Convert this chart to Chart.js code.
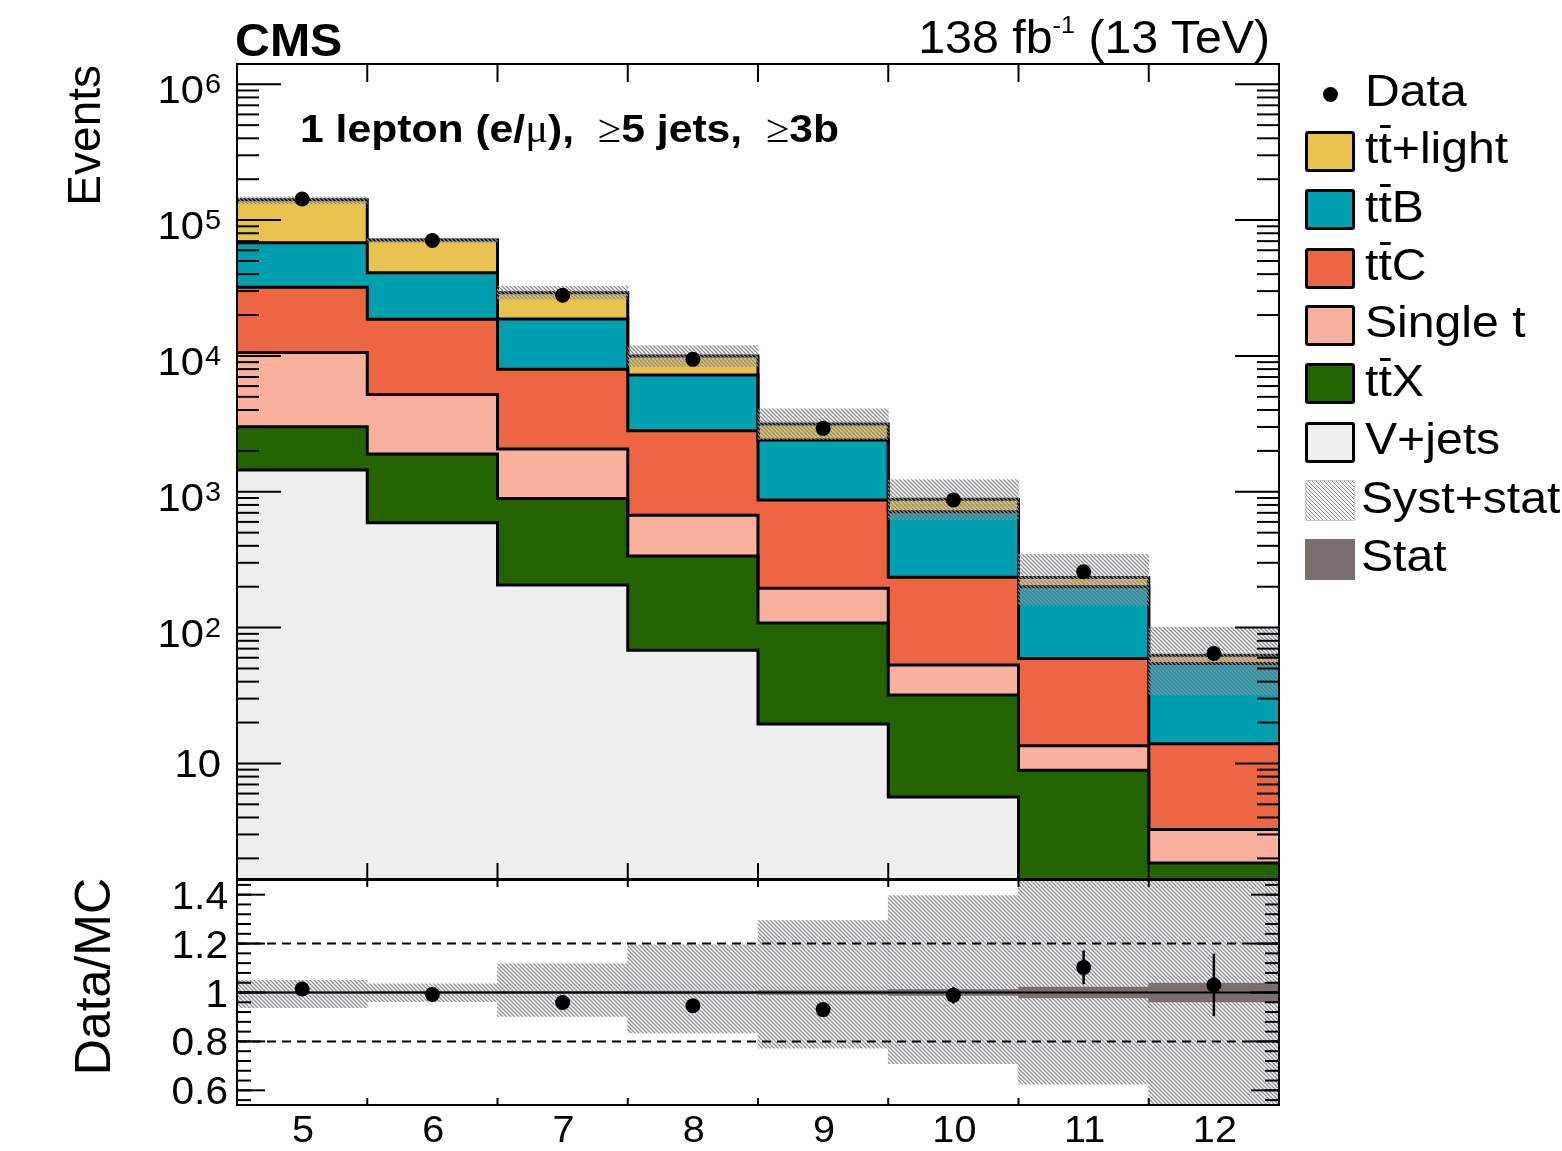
<!DOCTYPE html>
<html>
<head>
<meta charset="utf-8">
<title>Jet multiplicity, 1 lepton, ≥5 jets, ≥3b</title>
<script src="https://cdn.jsdelivr.net/npm/chart.js@4.4.1/dist/chart.umd.min.js"></script>
<style>
  html, body { margin: 0; padding: 0; background: #fff; }
  #page { position: relative; width: 1562px; height: 1151px; overflow: hidden;
          font-family: "Liberation Sans", Arial, Helvetica, sans-serif; color: #000; }
  .panel { position: absolute; left: 0; width: 1562px; }
  #mainBox  { top: 0;     height: 900px; }
  #ratioBox { top: 870px; height: 281px; }
  .t { position: absolute; white-space: nowrap; line-height: 1; transform-origin: 0 0; transform: scaleX(1.08); }
  .sym { font-family: "Liberation Serif", "DejaVu Serif", serif; font-weight: normal; }
  #cms  { left: 235px; top: 17px; font-size: 46px; font-weight: bold; transform: scaleX(1.05); }
  #lumi { right: 292px; top: 14px; font-size: 46px; transform-origin: 100% 0; transform: scaleX(1.05); }
  #lumi sup { font-size: 24px; vertical-align: 20px; line-height: 0; }
  #region { left: 300px; top: 109px; font-size: 39.5px; font-weight: bold; }
  .box { position: absolute; left: 1305px; width: 50px; height: 41px; box-sizing: border-box;
         border: 3px solid #000; border-radius: 3px; }
  .lab { position: absolute; left: 1365px; font-size: 45px; line-height: 1; white-space: nowrap;
         transform-origin: 0 0; transform: scaleX(1.07); }
  .tb { position: relative; }
  .tb::after { content: ""; position: absolute; left: 0.03em; right: 0.02em; top: 0.07em;
               height: 0.06em; background: #000; }
  #dot { position: absolute; left: 1323px; top: 87px; width: 15px; height: 15px; border-radius: 50%; background: #000; }
</style>
</head>
<body>
<div id="page">
  <div class="panel" id="mainBox"><canvas id="mainChart"></canvas></div>
  <div class="panel" id="ratioBox"><canvas id="ratioChart"></canvas></div>

  <div class="t" id="cms">CMS</div>
  <div class="t" id="lumi">138 fb<sup>-1</sup> (13 TeV)</div>
  <div class="t" id="region">1 lepton (e/<span class="sym">μ</span>),&nbsp; <span class="sym">≥</span>5 jets,&nbsp; <span class="sym">≥</span>3b</div>

  <!-- legend -->
  <div id="dot"></div>
  <div class="lab" style="top:68px">Data</div>
  <div class="box" style="top:131px; background:#e8c44f"></div>
  <div class="lab" style="top:125px">t<span class="tb">t</span>+light</div>
  <div class="box" style="top:189px; background:#009fb0"></div>
  <div class="lab" style="top:184px">t<span class="tb">t</span>B</div>
  <div class="box" style="top:248px; background:#ec6642"></div>
  <div class="lab" style="top:242px">t<span class="tb">t</span>C</div>
  <div class="box" style="top:305px; background:#f9b09c"></div>
  <div class="lab" style="top:299px">Single t</div>
  <div class="box" style="top:363px; background:#246400"></div>
  <div class="lab" style="top:358px">t<span class="tb">t</span>X</div>
  <div class="box" style="top:422px; background:#efefef"></div>
  <div class="lab" style="top:416px">V+jets</div>
  <div class="box" style="top:480px; border:1.5px solid #c4c4c8; border-radius:1px;
       background:repeating-linear-gradient(45deg, #8c8c96 0 1.2px, #fff 1.2px 2.83px)"></div>
  <div class="lab" style="top:475px; left:1361px">Syst+stat</div>
  <div class="box" style="top:539px; border:none; border-radius:1px; background:#7b6e6e"></div>
  <div class="lab" style="top:533px; left:1361px">Stat</div>
</div>

<script>
// ---------- bins ----------
const nJets     = [5, 6, 7, 8, 9, 10, 11, 12];
const binLabels = ['5', '6', '7', '8', '9', '10', '11', '12'];

// ---------- expected yields per process (events per bin) ----------
const vJets   = [1445, 591, 206, 68, 19.5, 5.65, 0, 0];
const ttX     = [1565, 1305, 688, 269, 88.5, 26.3, 8.9, 1.85];
const singleT = [7590, 3314, 1168, 336, 87, 21.1, 4.6, 1.42];
const ttC     = [21400, 13390, 5908, 2140, 674, 182, 45.8, 10.7];
const ttB     = [36200, 22400, 10730, 4417, 1536, 477, 140.7, 40.5];
const ttLight = [72800, 30300, 10500, 2750, 745, 167, 34, 8.2];

// ---------- observed events ----------
const dataCounts = [143000, 70700, 28000, 9440, 2930, 869, 258, 64.6];
const dataErrors = [380, 266, 167, 97, 54, 29.5, 16.1, 8.0];

// ---------- uncertainty of the total prediction (relative to it) ----------
const systStatUp   = [1.049, 1.035, 1.117, 1.195, 1.294, 1.396, 1.48, 1.60];
const systStatDown = [0.938, 0.963, 0.902, 0.835, 0.773, 0.709, 0.625, 0.51];
const statOnly     = [0.002, 0.003, 0.004, 0.006, 0.008, 0.012, 0.022, 0.038];

// ---------- axis ticks ----------
const eventsMajorTicks = [10, 1e2, 1e3, 1e4, 1e5, 1e6];
const eventsTickExps   = ['', '2', '3', '4', '5', '6'];
const ratioMajorTicks  = [0.6, 0.8, 1.0, 1.2, 1.4];
const ratioTickLabels  = ['0.6', '0.8', '1', '1.2', '1.4'];
const ratioRefLines    = [0.8, 1.2];

// ---------- styling ----------
const COLORS = {
  vJets: '#efefef', ttX: '#246400', singleT: '#f9b09c', ttC: '#ec6642',
  ttB: '#009fb0', ttLight: '#e8c44f', stat: '#7b6e6e', hatch: '#8c8c96'
};
const FONT = '"Liberation Sans", Arial, Helvetica, sans-serif';
const TEXT_SX = 1.07;
const FLOOR = 1e-2;          // below the lowest axis value, keeps the log scale happy

// stack order, bottom to top
const layers = [
  { name: 'V+jets',   values: vJets,   color: COLORS.vJets },
  { name: 'ttX',      values: ttX,     color: COLORS.ttX },
  { name: 'Single t', values: singleT, color: COLORS.singleT },
  { name: 'ttC',      values: ttC,     color: COLORS.ttC },
  { name: 'ttB',      values: ttB,     color: COLORS.ttB },
  { name: 'tt+light', values: ttLight, color: COLORS.ttLight }
];

// cumulative edges of the stack
const cumulative = [];
layers.forEach((l, k) => {
  cumulative.push(l.values.map((v, i) => (k ? cumulative[k - 1][i] : 0) + v));
});
const totalMC = cumulative[cumulative.length - 1];
const binEdges = nJets.map(n => n - 0.5).concat([nJets[nJets.length - 1] + 0.5]);
const xMin = binEdges[0], xMax = binEdges[binEdges.length - 1];
const innerEdges = binEdges.slice(1, -1);

function stepPoints(vals) {
  return binEdges.map((x, i) => ({ x, y: Math.max(vals[Math.min(i, vals.length - 1)], FLOOR) }));
}

// diagonal hatch used for the syst+stat band
function makeHatch() {
  const c = document.createElement('canvas');
  c.width = 4; c.height = 4;
  const g = c.getContext('2d');
  g.strokeStyle = COLORS.hatch;
  g.lineWidth = 1.25;
  g.beginPath();
  g.moveTo(-1, -1); g.lineTo(5, 5);
  g.moveTo(-1, 3);  g.lineTo(1, 5);
  g.moveTo(3, -1);  g.lineTo(5, 1);
  g.stroke();
  return g.createPattern(c, 'repeat');
}
const hatch = makeHatch();

// text helper: slightly widened glyphs
function wideText(ctx, text, x, y, align) {
  const w = ctx.measureText(text).width * TEXT_SX;
  const x0 = align === 'right' ? x - w : align === 'center' ? x - w / 2 : x;
  ctx.save();
  ctx.translate(x0, y);
  ctx.scale(TEXT_SX, 1);
  ctx.textAlign = 'left';
  ctx.fillText(text, 0, 0);
  ctx.restore();
  return w;
}

// frame with inward ticks on all four sides
const rootFrame = {
  id: 'rootFrame',
  afterDatasetsDraw(chart, args, o) {
    const { ctx, chartArea: a } = chart;
    const xs = chart.scales.x, ys = chart.scales.y;
    ctx.save();
    ctx.strokeStyle = '#000';
    ctx.lineWidth = 2;
    const seg = (x1, y1, x2, y2) => { ctx.beginPath(); ctx.moveTo(x1, y1); ctx.lineTo(x2, y2); ctx.stroke(); };
    o.yMajor.forEach(v => {
      const p = ys.getPixelForValue(v);
      seg(a.left, p, a.left + o.yMajorLen, p);
      seg(a.right, p, a.right - o.yMajorLen, p);
    });
    o.yMinor.forEach(v => {
      const p = ys.getPixelForValue(v);
      if (p < a.top || p > a.bottom) return;
      seg(a.left, p, a.left + o.yMinorLen, p);
      seg(a.right, p, a.right - o.yMinorLen, p);
    });
    o.xTicks.forEach(v => {
      const p = xs.getPixelForValue(v);
      seg(p, a.top, p, a.top + o.xTopLen);
      seg(p, a.bottom, p, a.bottom - o.xBottomLen);
    });
    ctx.strokeRect(a.left, a.top, a.right - a.left, a.bottom - a.top);
    ctx.restore();
  }
};

// minor ticks
const eventsMinorTicks = [];
for (let d = 1; d <= 1e5; d *= 10) for (let m = 2; m <= 9; m++) eventsMinorTicks.push(m * d);
const ratioMinorTicks = [];
for (let k = 14; k <= 36; k++) ratioMinorTicks.push(k * 0.04);

const commonOpts = {
  responsive: true, maintainAspectRatio: false, animation: false, events: [],
  devicePixelRatio: 1
};
const barBase = { type: 'bar', barPercentage: 1, categoryPercentage: 1, grouped: false,
                  borderWidth: 0, clip: 0, inflateAmount: 0.4 };
const fixTicks = scale => { scale.ticks = nJets.map(v => ({ value: v })); };
const xScale = { type: 'linear', min: xMin, max: xMax, offset: false, display: false,
                 afterBuildTicks: fixTicks };

// ================= upper panel =================
const mainDatasets = [];
layers.forEach((l, k) => {
  mainDatasets.push(Object.assign({}, barBase, {
    label: l.name, order: 10,
    backgroundColor: l.color,
    data: nJets.map((x, i) => ({ x, y: [Math.max(k ? cumulative[k - 1][i] : 0, FLOOR),
                                        Math.max(cumulative[k][i], FLOOR)] }))
  }));
});
layers.forEach((l, k) => {
  mainDatasets.push({
    type: 'line', label: l.name + ' outline', order: 5, stepped: 'before',
    data: stepPoints(cumulative[k]), borderColor: '#000', borderWidth: 3,
    pointRadius: 0, fill: false, clip: 0, borderJoinStyle: 'miter'
  });
});
mainDatasets.push(Object.assign({}, barBase, {
  label: 'Syst+stat', order: 2, backgroundColor: hatch,
  data: nJets.map((x, i) => ({ x, y: [totalMC[i] * systStatDown[i], totalMC[i] * systStatUp[i]] }))
}));
mainDatasets.push({
  type: 'scatter', label: 'Data', order: 0,
  data: nJets.map((x, i) => ({ x, y: dataCounts[i] })),
  pointRadius: 7.5, pointBackgroundColor: '#000', pointBorderWidth: 0
});

new Chart(document.getElementById('mainChart'), {
  type: 'bar',
  data: { datasets: mainDatasets },
  options: Object.assign({}, commonOpts, {
    layout: { padding: { left: 237, right: 283, top: 64, bottom: 21 } },
    scales: {
      x: xScale,
      y: { type: 'logarithmic', min: 1.41, max: 1.41e6, display: false }
    },
    plugins: {
      legend: { display: false }, tooltip: { enabled: false },
      rootFrame: { yMajor: eventsMajorTicks, yMinor: eventsMinorTicks, yMajorLen: 44, yMinorLen: 22,
                   xTicks: innerEdges, xTopLen: 18, xBottomLen: 16 }
    }
  }),
  plugins: [rootFrame, {
    id: 'eventsLabels',
    afterDraw(chart) {
      const { ctx } = chart;
      const ys = chart.scales.y;
      ctx.save();
      ctx.fillStyle = '#000';
      ctx.textBaseline = 'alphabetic';
      eventsMajorTicks.forEach((v, i) => {
        const p = ys.getPixelForValue(v);
        const exp = eventsTickExps[i];
        if (exp) {
          ctx.font = '27px ' + FONT;
          const w = wideText(ctx, exp, 221, p + 9, 'right');
          ctx.font = '39px ' + FONT;
          wideText(ctx, '10', 221 - w - 1, p + 19, 'right');
        } else {
          ctx.font = '39px ' + FONT;
          wideText(ctx, '10', 221, p + 14, 'right');
        }
      });
      // y-axis title
      ctx.font = '46px ' + FONT;
      ctx.translate(100, 65);
      ctx.rotate(-Math.PI / 2);
      ctx.textAlign = 'right';
      ctx.fillText('Events', 0, 0);
      ctx.restore();
    }
  }]
});

// ================= ratio panel =================
const ratio    = dataCounts.map((d, i) => d / totalMC[i]);
const ratioErr = dataErrors.map((e, i) => e / totalMC[i]);

const ratioDatasets = [
  Object.assign({}, barBase, {
    label: 'Syst+stat', order: 8, backgroundColor: hatch,
    data: nJets.map((x, i) => ({ x, y: [systStatDown[i], systStatUp[i]] }))
  }),
  ...ratioRefLines.map(r => ({
    type: 'line', label: 'ref ' + r, order: 6, data: [{ x: xMin, y: r }, { x: xMax, y: r }],
    borderColor: '#000', borderWidth: 2, borderDash: [9, 6], pointRadius: 0, fill: false, clip: 0
  })),
  Object.assign({}, barBase, {
    label: 'Stat', order: 4, backgroundColor: COLORS.stat,
    data: nJets.map((x, i) => ({ x, y: [1 - statOnly[i], 1 + statOnly[i]] }))
  }),
  {
    type: 'line', label: 'unity', order: 3, data: [{ x: xMin, y: 1 }, { x: xMax, y: 1 }],
    borderColor: '#000', borderWidth: 2, pointRadius: 0, fill: false, clip: 0
  },
  Object.assign({}, barBase, {
    label: 'Data error', order: 2, backgroundColor: '#000', maxBarThickness: 2.5, inflateAmount: 0,
    data: nJets.map((x, i) => ({ x, y: [ratio[i] - ratioErr[i], ratio[i] + ratioErr[i]] }))
  }),
  {
    type: 'scatter', label: 'Data/MC', order: 0,
    data: nJets.map((x, i) => ({ x, y: ratio[i] })),
    pointRadius: 7.5, pointBackgroundColor: '#000', pointBorderWidth: 0
  }
];

new Chart(document.getElementById('ratioChart'), {
  type: 'bar',
  data: { datasets: ratioDatasets },
  options: Object.assign({}, commonOpts, {
    layout: { padding: { left: 237, right: 283, top: 10, bottom: 46 } },
    scales: {
      x: xScale,
      y: { type: 'linear', min: 0.54, max: 1.46, display: false }
    },
    plugins: {
      legend: { display: false }, tooltip: { enabled: false },
      rootFrame: { yMajor: ratioMajorTicks, yMinor: ratioMinorTicks, yMajorLen: 28, yMinorLen: 14,
                   xTicks: innerEdges, xTopLen: 7, xBottomLen: 7 }
    }
  }),
  plugins: [rootFrame, {
    id: 'ratioLabels',
    afterDraw(chart) {
      const { ctx, chartArea: a } = chart;
      const xs = chart.scales.x, ys = chart.scales.y;
      ctx.save();
      ctx.fillStyle = '#000';
      ctx.textBaseline = 'alphabetic';
      ctx.font = '38px ' + FONT;
      ratioMajorTicks.forEach((v, i) => {
        wideText(ctx, ratioTickLabels[i], 228, ys.getPixelForValue(v) + 14, 'right');
      });
      ctx.font = '37px ' + FONT;
      nJets.forEach((v, i) => {
        wideText(ctx, binLabels[i], xs.getPixelForValue(v) + 1, a.bottom + 37, 'center');
      });
      // y-axis title
      ctx.font = '50px ' + FONT;
      ctx.translate(110, 8);
      ctx.rotate(-Math.PI / 2);
      ctx.textAlign = 'right';
      ctx.fillText('Data/MC', 0, 0);
      ctx.restore();
    }
  }]
});
</script>
</body>
</html>
